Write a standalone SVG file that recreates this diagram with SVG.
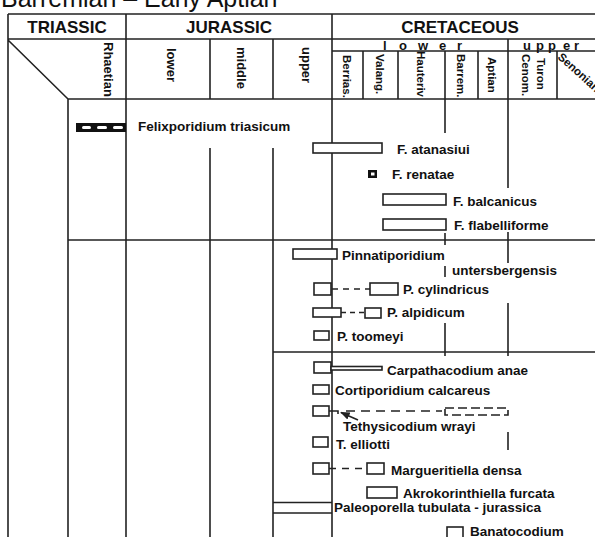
<svg xmlns="http://www.w3.org/2000/svg" width="595" height="537" viewBox="0 0 595 537">
<defs>
<style>
.g{stroke:#222;stroke-width:1.6;fill:none}
.bar{fill:#fff;stroke:#222;stroke-width:1.6}
.dash{stroke:#222;stroke-width:1.6;fill:none;stroke-dasharray:6 5}
.t{font-family:"Liberation Sans",Arial,sans-serif;font-weight:bold;font-size:13.5px;fill:#111}
.h{font-family:"Liberation Sans",Arial,sans-serif;font-weight:bold;font-size:17px;fill:#111}
.c{font-family:"Liberation Sans",Arial,sans-serif;font-weight:bold;font-size:13px;fill:#111}
.s{font-family:"Liberation Sans",Arial,sans-serif;font-weight:bold;font-size:11.5px;fill:#111}
</style>
<marker id="ah" viewBox="0 0 10 10" refX="9" refY="5" markerWidth="6" markerHeight="6" orient="auto">
<path d="M0,1 L10,5 L0,9 z" fill="#222"/>
</marker>
</defs>
<rect width="595" height="537" fill="#fff"/>
<text x="1" y="7" font-family="Liberation Sans,Arial,sans-serif" font-size="25" fill="#111">Barremian – Early Aptian</text>

<g id="grid">
<path class="g" d="M8,14 H595 M8,39 H595 M332,51 H595 M68,99 H595 M8,14 V537 M126,14 V537 M332,14 V537 M8,40 L68,99 V537 M210,39 V99 M273,39 V99 M363,51 V99 M398,51 V99 M445,51 V99 M478,51 V99 M508,39 V99 M557,51 V99"/>
<path class="g" d="M210,148 V537 M273,148 V537 M68,240 H595 M273,352 H595"/>
<path class="g" d="M445,99 V133 M445,233 V245 M445,266 V277 M445,323 V356 M508,99 V188 M508,232 V263 M508,303 V356 M508,432 V450"/>
</g>

<g id="headers">
<text class="h" x="67" y="33" text-anchor="middle">TRIASSIC</text>
<text class="h" x="229" y="33" text-anchor="middle">JURASSIC</text>
<text class="h" x="460" y="33" text-anchor="middle">CRETACEOUS</text>
<text class="c" x="383 399 418 439 457" y="49.5">lower</text>
<text class="c" x="523 536 548 563 574" y="49.5">upper</text>
<text class="c" transform="translate(104,42) rotate(90)">Rhaetian</text>
<text class="c" transform="translate(167,48) rotate(90)">lower</text>
<text class="c" transform="translate(237,47) rotate(90)">middle</text>
<text class="c" transform="translate(302,47) rotate(90)">upper</text>
<text class="s" transform="translate(343,55) rotate(90)">Berrias.</text>
<text class="s" transform="translate(376,54) rotate(90)">Valang.</text>
<text class="s" transform="translate(417,51) rotate(90)">Hauteriv</text>
<text class="s" transform="translate(457,54) rotate(90)">Barrem.</text>
<text class="s" transform="translate(488,57) rotate(90)">Aptian</text>
<text class="s" transform="translate(522,54) rotate(90)">Cenom.</text>
<text class="s" transform="translate(537,58) rotate(90)">Turon</text>
<text class="s" transform="translate(557,58) rotate(42)">Senonian</text>
</g>

<g id="felixporidium-triasicum">
<rect x="76" y="123" width="50" height="9" fill="#111"/>
<rect x="82" y="126" width="9" height="3" rx="1.5" fill="#fff"/>
<rect x="97" y="126" width="10" height="3" rx="1.5" fill="#fff"/>
<rect x="113" y="126" width="10" height="3" rx="1.5" fill="#fff"/>
<text class="t" x="138" y="131">Felixporidium triasicum</text>
</g>
<g id="f-atanasiui">
<rect class="bar" x="313" y="143" width="69" height="10"/>
<text class="t" x="397" y="153.5">F. atanasiui</text>
</g>
<g id="f-renatae">
<rect x="368" y="170" width="9" height="8" fill="#111"/>
<rect x="371" y="172.5" width="3.5" height="3" fill="#fff"/>
<text class="t" x="392" y="179">F. renatae</text>
</g>
<g id="f-balcanicus">
<rect class="bar" x="383" y="194" width="63" height="11"/>
<text class="t" x="453" y="206">F. balcanicus</text>
</g>
<g id="f-flabelliforme">
<rect class="bar" x="383" y="219" width="63" height="11"/>
<text class="t" x="454" y="230">F. flabelliforme</text>
</g>
<g id="pinnatiporidium">
<rect class="bar" x="293" y="249" width="44" height="10"/>
<text class="t" x="342" y="259.5">Pinnatiporidium</text>
<text class="t" x="452" y="275">untersbergensis</text>
</g>
<g id="p-cylindricus">
<rect class="bar" x="314" y="283" width="17" height="12"/>
<rect class="bar" x="370" y="283" width="28" height="12"/>
<text class="t" x="403" y="294">P. cylindricus</text>
</g>
<g id="p-alpidicum">
<rect class="bar" x="313" y="308" width="28" height="9"/>
<rect class="bar" x="365" y="308" width="16" height="10"/>
<text class="t" x="387" y="317">P. alpidicum</text>
</g>
<g id="p-toomeyi">
<rect class="bar" x="314" y="331" width="15" height="9"/>
<text class="t" x="337" y="340.5">P. toomeyi</text>
</g>
<g id="carpathacodium-anae">
<rect class="bar" x="314" y="362" width="17" height="11"/>
<rect class="bar" x="331" y="366.5" width="51" height="3.5"/>
<text class="t" x="387" y="375">Carpathacodium anae</text>
</g>
<g id="cortiporidium-calcareus">
<rect class="bar" x="313" y="385" width="16" height="9"/>
<text class="t" x="335" y="395">Cortiporidium calcareus</text>
</g>
<g id="tethysicodium-wrayi">
<rect class="bar" x="313" y="406" width="16" height="10"/>
<rect x="445" y="408" width="63" height="7" fill="#fff" stroke="#222" stroke-width="1.6" stroke-dasharray="9 4"/>
<text class="t" x="343" y="430.5">Tethysicodium wrayi</text>
</g>
<g id="t-elliotti">
<rect class="bar" x="313" y="437" width="15" height="10"/>
<text class="t" x="336" y="449">T. elliotti</text>
</g>
<g id="margueritiella-densa">
<rect class="bar" x="313" y="463" width="16" height="11"/>
<rect class="bar" x="367" y="463" width="17" height="11"/>
<text class="t" x="391" y="475">Margueritiella densa</text>
</g>
<g id="akrokorinthiella-furcata">
<rect class="bar" x="367" y="487" width="30" height="11"/>
<text class="t" x="403" y="498">Akrokorinthiella furcata</text>
</g>
<g id="paleoporella-tubulata-jurassica">
<path class="g" d="M273,502.5 H332 M273,513 H332"/>
<text class="t" x="334" y="512">Paleoporella tubulata - jurassica</text>
</g>
<g id="banatocodium">
<rect class="bar" x="447" y="527" width="16" height="14"/>
<text class="t" x="470" y="535.5">Banatocodium</text>
</g>

<g id="connectors">
<path class="dash" d="M332,289 H370"/>
<path class="dash" d="M341,312.5 H365" style="stroke-dasharray:5 4"/>
<path class="g" d="M329,411 H338 V414"/>
<path class="dash" d="M346,411 H442" style="stroke-dasharray:9 6"/>
<path class="g" d="M358,420 L341,412.5" marker-end="url(#ah)"/>
<path class="dash" d="M329,468.5 H367" style="stroke-dasharray:7 6"/>
</g>
</svg>
